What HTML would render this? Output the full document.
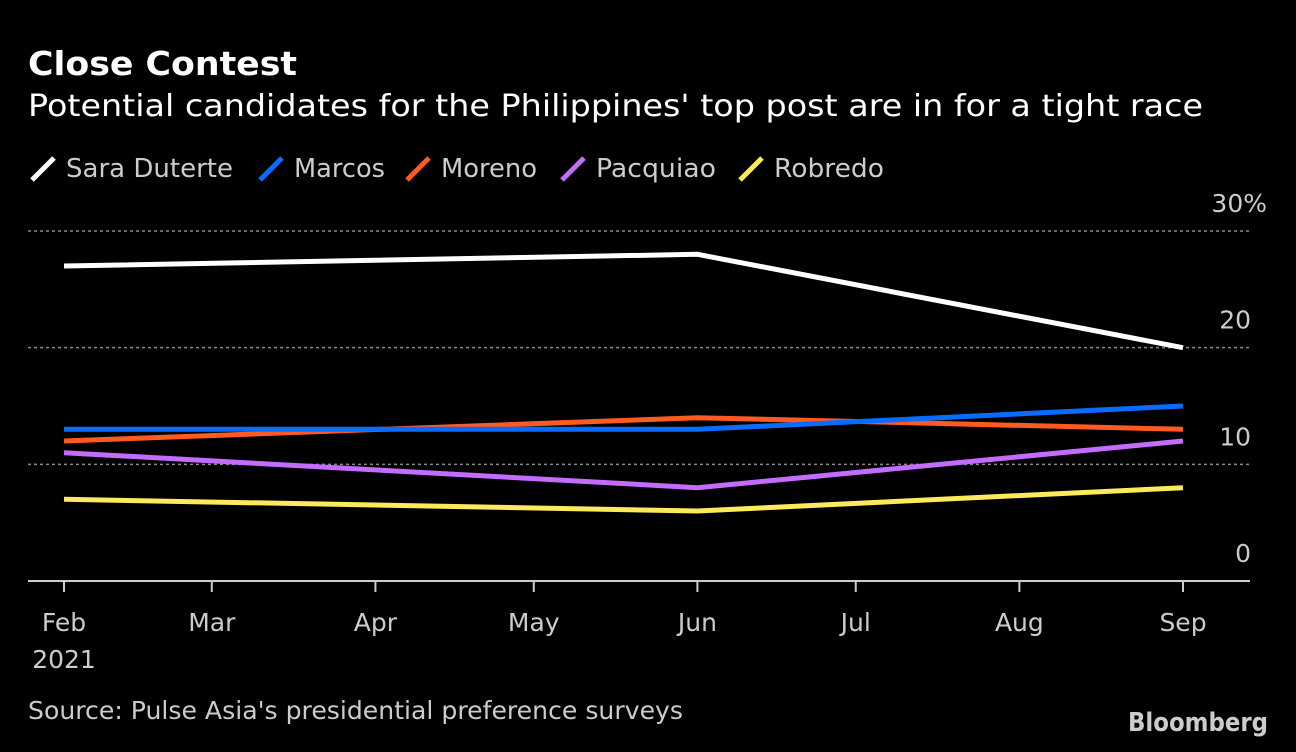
<!DOCTYPE html>
<html><head><meta charset="utf-8">
<style>
html,body{margin:0;padding:0;background:#000;}
body{width:1296px;height:748px;overflow:hidden;font-family:"DejaVu Sans","Liberation Sans",sans-serif;color:#fff;}
svg text{font-family:"DejaVu Sans","Liberation Sans",sans-serif;}
</style></head>
<body>
<svg id="chart" width="1296" height="748" viewBox="0 0 1296 748" xmlns="http://www.w3.org/2000/svg">
  <text x="28" y="75" font-size="33" font-weight="bold" fill="#fff" textLength="269" lengthAdjust="spacingAndGlyphs">Close Contest</text>
  <text x="28" y="116" font-size="30" fill="#fff" textLength="1175" lengthAdjust="spacingAndGlyphs">Potential candidates for the Philippines' top post are in for a tight race</text>
  <g id="legend"></g>
  <g id="grid"></g>
  <g id="xaxis"></g>
  <g id="series"></g>
  <text x="28" y="719" font-size="25" fill="#ccc" textLength="655" lengthAdjust="spacingAndGlyphs">Source: Pulse Asia's presidential preference surveys</text>
  <text x="1268" y="731" font-size="26" font-weight="bold" fill="#ccc" text-anchor="end" textLength="140" lengthAdjust="spacingAndGlyphs">Bloomberg</text>
</svg>
<script>
const seriesNames = ["Sara Duterte","Marcos","Moreno","Pacquiao","Robredo"];
const seriesColors = ["#ffffff","#0a6cff","#ff5a1f","#c36cff","#fde95c"];
const pointDays = [0,120,212];
const saraValues = [27,28,20];
const marcosValues = [13,13,15];
const morenoValues = [12,14,13];
const pacquiaoValues = [11,8,12];
const robredoValues = [7,6,8];
const yTicks = [0,10,20,30];
const yTickLabels = ["0","10","20","30%"];
const monthLabels = ["Feb","Mar","Apr","May","Jun","Jul","Aug","Sep"];
const monthDays = [0,28,59,89,120,150,181,212];

const NS="http://www.w3.org/2000/svg";
function xScale(d){return 64+(1183-64)*d/212;}
function yScale(v){return 581-(581-231)*v/30;}
function mk(tag,attrs,parent){const e=document.createElementNS(NS,tag);for(const k in attrs)e.setAttribute(k,attrs[k]);parent.appendChild(e);return e;}

const grid=document.getElementById('grid');
yTicks.forEach((t,i)=>{
  const y=yScale(t);
  if(t>0){
    const l=mk('line',{x1:28,x2:1250,y1:y,y2:y,stroke:'#888','stroke-width':1.5,'stroke-dasharray':'3,3'},grid);
    
    
  }
  const isTop = t===30;
  const tx=mk('text',{x:isTop?1267:1251,y:y-19,'font-size':25,fill:'#ccc','text-anchor':'end'},grid);
  tx.textContent=yTickLabels[i];
  
  
});

const xa=document.getElementById('xaxis');
const axl=mk('line',{x1:28,x2:1250,y1:581,y2:581,stroke:'#ccc','stroke-width':2},xa);


monthDays.forEach((d,i)=>{
  const x=xScale(d);
  const tk=mk('line',{x1:x,x2:x,y1:581,y2:592,stroke:'#ccc','stroke-width':2},xa);
  
  
  const tx=mk('text',{x:x,y:631,'font-size':25,fill:'#ccc','text-anchor':'middle'},xa);
  tx.textContent=monthLabels[i];
  
  
});
const yr=mk('text',{x:64,y:668,'font-size':25,fill:'#ccc','text-anchor':'middle'},xa);
yr.textContent="2021";



const allValues=[saraValues,marcosValues,morenoValues,pacquiaoValues,robredoValues];
const sg=document.getElementById('series');
for(let s=allValues.length-1;s>=0;s--){
  const pts=allValues[s].map((v,i)=>xScale(pointDays[i]).toFixed(1)+','+yScale(v).toFixed(1)).join(' ');
  const pl=mk('polyline',{points:pts,fill:'none',stroke:seriesColors[s],'stroke-width':5,'stroke-linejoin':'miter'},sg);
  
  
}

const lg=document.getElementById('legend');
const legendX=[30,258,405,560,738];
const legendTextW=[167,91,96,120,110];
seriesNames.forEach((n,i)=>{
  const g=mk('g',{},lg);
  
  
  const x=legendX[i];
  mk('line',{x1:x+2,y1:180,x2:x+24,y2:158,stroke:seriesColors[i],'stroke-width':5},g);
  const t=mk('text',{x:x+36,y:177,'font-size':26,fill:'#ccc',textLength:legendTextW[i],lengthAdjust:'spacingAndGlyphs'},g);
  t.textContent=n;
});
</script>
</body></html>
